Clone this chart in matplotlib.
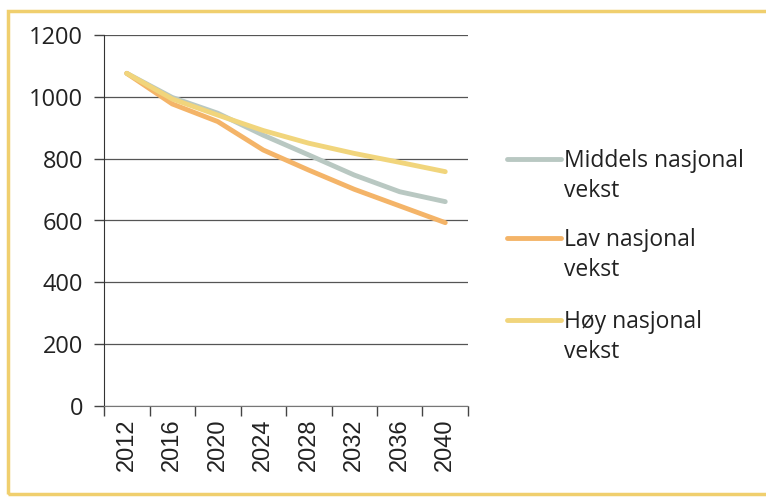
import matplotlib.pyplot as plt
import numpy as np
from matplotlib.patches import Rectangle
from matplotlib.lines import Line2D

years = ["2012", "2016", "2020", "2024", "2028", "2032", "2036", "2040"]
middels = [1076, 998, 947, 876, 812, 747, 693, 661]
lav = [1076, 977, 920, 828, 763, 701, 647, 593]
hoy = [1076, 993, 941, 891, 850, 817, 788, 758]

labels = [("Middels nasjonal", "vekst"), ("Lav nasjonal", "vekst"), ("Høy nasjonal", "vekst")]
colors = ["#b9c8c2", "#f4b468", "#f1d57c"]

W, H = 766, 497
fig = plt.figure(figsize=(W / 100, H / 100), dpi=100)
fig.patch.set_facecolor("white")

# yellow frame from the scanned page
fig.patches.append(Rectangle((8 / W, 1 - 494 / H), 800 / W, (494 - 11) / H,
                             transform=fig.transFigure, fill=False,
                             edgecolor="#f0cf6e", linewidth=2.5))

ax = fig.add_axes([104 / W, 1 - 406 / H, (468 - 104) / W, (406 - 35) / H])

x = np.arange(len(years))
for vals, col in zip([middels, lav, hoy], colors):
    ax.plot(x, vals, color=col, linewidth=3.5, solid_capstyle="round")

ax.set_xlim(-0.5, len(years) - 0.5)
ax.set_ylim(0, 1200)
ax.set_yticks(np.arange(0, 1201, 200))
ax.yaxis.grid(True, color="#555555", linewidth=0.9)
ax.set_axisbelow(True)

ax.set_xticks(np.arange(-0.5, len(years), 1.0))
ax.set_xticklabels([])
ax.set_xticks(x, minor=True)
ax.set_xticklabels(years, minor=True, rotation=90, fontsize=17,
                   family="Liberation Sans", color="#222222")
ax.tick_params(axis="x", which="major", direction="out", length=7, width=1, color="#444444")
ax.tick_params(axis="x", which="minor", length=0, pad=9)
ax.tick_params(axis="y", direction="out", length=7, width=1, color="#444444",
               labelsize=17, labelcolor="#222222", pad=8)
for t in ax.get_yticklabels():
    t.set_family("Open Sans")

for s in ["top", "right"]:
    ax.spines[s].set_visible(False)
ax.spines["left"].set_color("#333333")
ax.spines["bottom"].set_color("#777777")

# legend: handle sits on the first text line, as in the original
leg_y = [159, 238, 320]
for (l1, l2), col, yy in zip(labels, colors, leg_y):
    fig.lines.append(Line2D([507 / W, 561 / W], [1 - yy / H, 1 - yy / H],
                            transform=fig.transFigure, color=col, linewidth=3.5,
                            solid_capstyle="round"))
    fig.text(564 / W, 1 - (yy + 8) / H, l1, fontsize=16.5, family="Open Sans",
             color="#222222", va="baseline", ha="left")
    fig.text(564 / W, 1 - (yy + 38) / H, l2, fontsize=16.5, family="Open Sans",
             color="#222222", va="baseline", ha="left")

fig.savefig("out.png", dpi=100)
